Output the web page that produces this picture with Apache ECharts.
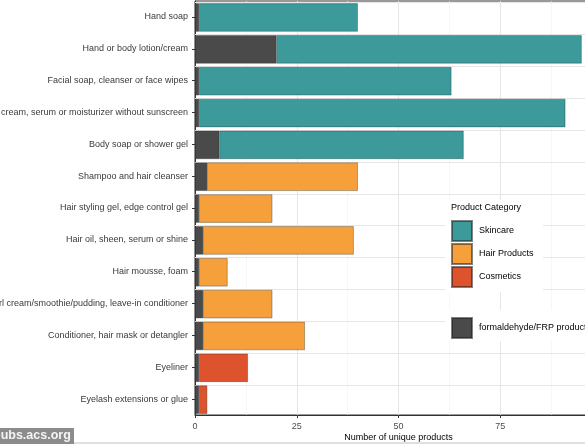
<!DOCTYPE html>
<html lang="en">

<head>
    <meta charset="UTF-8">
    <title>Unique products</title>
    <script src="https://cdn.jsdelivr.net/npm/echarts@6/dist/echarts.min.js"></script>
    <style>
        html, body { margin: 0; padding: 0; background: #fff; }
    </style>
</head>

<body>
    <div id="main" style="width: 585px; height: 444px;"></div>
    <script>
        var categories = [
            'Hand soap',
            'Hand or body lotion/cream',
            'Facial soap, cleanser or face wipes',
            'Face cream, serum or moisturizer without sunscreen',
            'Body soap or shower gel',
            'Shampoo and hair cleanser',
            'Hair styling gel, edge control gel',
            'Hair oil, sheen, serum or shine',
            'Hair mousse, foam',
            'Curl cream/smoothie/pudding, leave-in conditioner',
            'Conditioner, hair mask or detangler',
            'Eyeliner',
            'Eyelash extensions or glue'
        ];
        // products containing formaldehyde / FRP
        var frpCounts = [1, 20, 1, 1, 6, 3, 1, 2, 1, 2, 2, 1, 1];
        // total number of unique products per category
        var totalCounts = [40, 95, 63, 91, 66, 40, 19, 39, 8, 19, 27, 13, 3];
        var productGroups = [
            'Skincare', 'Skincare', 'Skincare', 'Skincare', 'Skincare',
            'Hair Products', 'Hair Products', 'Hair Products', 'Hair Products', 'Hair Products', 'Hair Products',
            'Cosmetics', 'Cosmetics'
        ];
        var xTicks = [0, 25, 50, 75];

        var colors = {
            'Skincare': '#3d9a9b',
            'Hair Products': '#f5a03b',
            'Cosmetics': '#dc532d',
            'formaldehyde/FRP products': '#4a4a4a'
        };
        var font = 'Liberation Sans, Arial, sans-serif';

        function restFor(group) {
            return totalCounts.map(function (t, i) {
                return productGroups[i] === group ? t - frpCounts[i] : '-';
            });
        }

        function barSeries(name, data) {
            return {
                name: name,
                type: 'bar',
                stack: 'all',
                data: data,
                barWidth: '89%',
                z: 2,
                itemStyle: {
                    color: colors[name],
                    borderColor: 'rgba(30,30,30,0.55)',
                    borderWidth: 0.6
                }
            };
        }

        var chart = echarts.init(document.getElementById('main'));

        var legendText = { fontSize: 9, color: '#000', fontFamily: font, padding: [0, 0, 0, 2] };

        var option = {
            animation: false,
            backgroundColor: '#fff',
            textStyle: { fontFamily: font },
            grid: {
                left: 195,
                top: 1,
                width: 407,
                height: 414,
                containLabel: false,
                outerBoundsMode: 'none',
                show: true,
                borderColor: '#333',
                borderWidth: 1
            },
            xAxis: {
                type: 'value',
                min: 0,
                max: 100,
                interval: 25,
                name: 'Number of unique products',
                nameLocation: 'middle',
                nameGap: 18,
                nameMoveOverlap: false,
                nameTextStyle: { fontSize: 9, color: '#000', fontFamily: font },
                axisLine: { show: true, lineStyle: { color: '#333', width: 1 } },
                axisTick: { show: true, length: 3, lineStyle: { color: '#333' } },
                axisLabel: {
                    fontSize: 9, color: '#4d4d4d', margin: 7, fontFamily: font,
                    formatter: function (v) { return xTicks.indexOf(v) >= 0 ? String(v) : ''; }
                },
                splitLine: { show: true, lineStyle: { color: '#e6e6e6', width: 1 } },
                minorTick: { show: false, splitNumber: 2 },
                minorSplitLine: { show: true, lineStyle: { color: '#f2f2f2', width: 0.6 } }
            },
            yAxis: {
                type: 'category',
                data: categories,
                inverse: true,
                axisLine: { show: true, lineStyle: { color: '#333', width: 1 } },
                axisTick: { show: true, length: 3, alignWithLabel: true, lineStyle: { color: '#333' } },
                axisLabel: { fontSize: 9, color: '#3a3a3a', margin: 7, fontFamily: font },
                splitLine: { show: false }
            },
            legend: [{
                orient: 'vertical',
                left: 451,
                top: 220,
                padding: 0,
                itemWidth: 20,
                itemHeight: 20,
                itemGap: 1,
                icon: 'rect',
                textStyle: legendText,
                data: ['Skincare', 'Hair Products', 'Cosmetics']
            }, {
                orient: 'vertical',
                left: 451,
                top: 317,
                padding: 0,
                itemWidth: 20,
                itemHeight: 20,
                icon: 'rect',
                textStyle: legendText,
                data: ['formaldehyde/FRP products']
            }],
            graphic: [
                { type: 'rect', z: 3, shape: { x: 445, y: 200, width: 98, height: 92 }, style: { fill: '#fff' } },
                { type: 'rect', z: 3, shape: { x: 445, y: 310, width: 150, height: 31 }, style: { fill: '#fff' } },
                {
                    type: 'text', z: 5, left: 451, top: 203,
                    style: { text: 'Product Category', fontSize: 9, fill: '#000', fontFamily: font }
                },
                { type: 'rect', z: 5, shape: { x: 0, y: 428, width: 74, height: 16 }, style: { fill: '#8c8c8c' } },
                {
                    type: 'text', z: 6, left: -7, top: 429,
                    style: { text: 'pubs.acs.org', fontSize: 12.5, fontWeight: 'bold', fill: '#f4f4f4', fontFamily: font }
                },
                { type: 'rect', z: 4, shape: { x: 74, y: 442, width: 511, height: 2 }, style: { fill: '#e0e0e0' } }
            ],
            series: [
                {
                    // horizontal gridlines through category centres
                    name: 'grid',
                    type: 'bar',
                    data: [],
                    z: 1,
                    markLine: {
                        silent: true,
                        symbol: 'none',
                        z: 1,
                        label: { show: false },
                        lineStyle: { color: '#e6e6e6', width: 1, type: 'solid' },
                        data: categories.map(function (c) { return { yAxis: c }; })
                    }
                },
                barSeries('formaldehyde/FRP products', frpCounts),
                barSeries('Skincare', restFor('Skincare')),
                barSeries('Hair Products', restFor('Hair Products')),
                barSeries('Cosmetics', restFor('Cosmetics'))
            ]
        };

        chart.setOption(option);
    </script>
</body>

</html>
